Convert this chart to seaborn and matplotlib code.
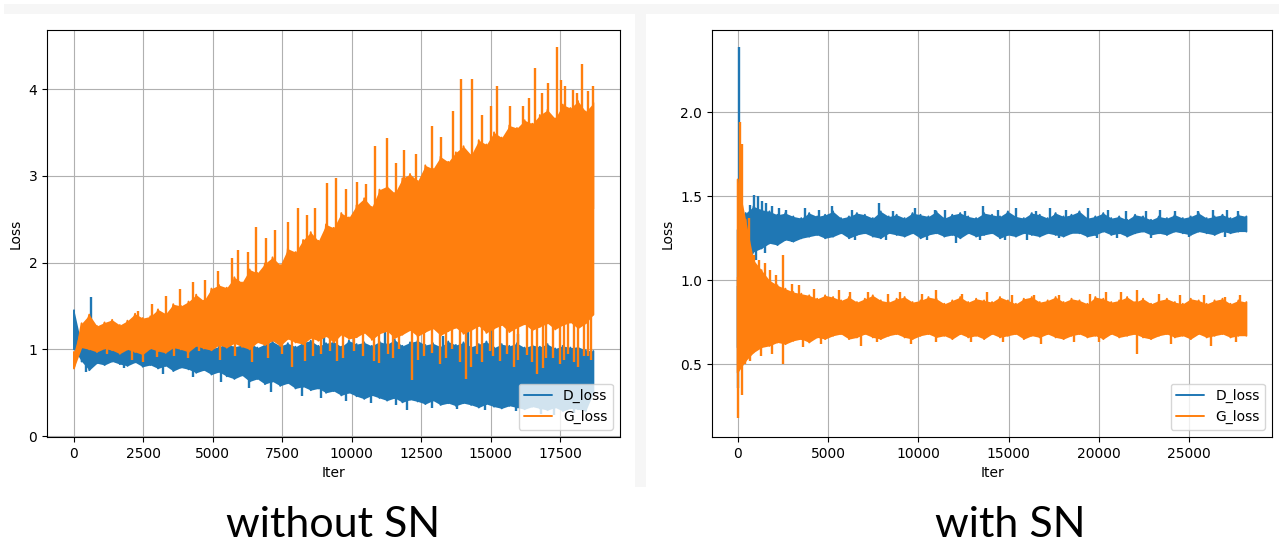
import matplotlib
matplotlib.use("Agg")
import matplotlib.pyplot as plt
from matplotlib.patches import Rectangle
import seaborn as sns
import numpy as np

# ---- left panel: without SN (band edges read every 275 iters) ----
L_ITER = np.arange(0, 18701, 275)
L_D_HI = [1.45, 1.05, 1.08, 1.02, 1.04, 1.01, 0.99, 1.03, 1.00, 0.98,
          1.04, 1.01, 0.99, 1.05, 1.02, 1.00, 1.04, 1.06, 1.01, 1.03,
          1.07, 1.03, 1.05, 1.08, 1.02, 1.06, 1.09, 1.04, 1.07, 1.03,
          1.08, 1.10, 1.04, 1.07, 1.09, 1.03, 1.10, 1.06, 1.08, 1.04,
          1.09, 1.06, 1.11, 1.04, 1.08, 1.10, 1.05, 1.07, 1.03, 1.09,
          1.05, 1.08, 1.03, 1.06, 1.09, 1.02, 1.06, 1.04, 1.07, 1.02,
          1.05, 1.03, 1.06, 1.01, 1.04, 1.02, 1.03, 0.99, 0.98]
L_D_LO = [1.00, 0.86, 0.76, 0.84, 0.82, 0.86, 0.83, 0.81, 0.85, 0.80,
          0.82, 0.78, 0.81, 0.75, 0.79, 0.77, 0.73, 0.76, 0.71, 0.74,
          0.69, 0.66, 0.70, 0.63, 0.66, 0.60, 0.63, 0.58, 0.61, 0.55,
          0.57, 0.53, 0.55, 0.50, 0.52, 0.47, 0.50, 0.46, 0.43, 0.47,
          0.44, 0.41, 0.44, 0.39, 0.42, 0.40, 0.37, 0.41, 0.36, 0.38,
          0.35, 0.38, 0.36, 0.33, 0.37, 0.34, 0.32, 0.35, 0.33, 0.31,
          0.34, 0.32, 0.30, 0.33, 0.29, 0.32, 0.31, 0.29, 0.50]
L_D_SPIKE_ITER = [600, 9000, 11200, 14200, 15000, 16000, 13300,
                  450, 1800, 3200, 4300, 5300, 6300, 7100, 8200, 8900, 9800, 10700, 11600,
                  12000, 12900, 13800, 14800, 15900, 16800, 17300, 18000]
L_D_SPIKE_VAL = [1.60, 1.18, 1.20, 1.22, 1.25, 1.18, 1.15,
                 0.74, 0.78, 0.72, 0.68, 0.62, 0.55, 0.51, 0.46, 0.44, 0.41, 0.38, 0.36,
                 0.30, 0.32, 0.31, 0.30, 0.29, 0.26, 0.24, 0.27]

L_G_HI = [0.97, 1.30, 1.40, 1.27, 1.31, 1.34, 1.28, 1.33, 1.41, 1.36,
          1.38, 1.46, 1.41, 1.52, 1.50, 1.55, 1.63, 1.56, 1.70, 1.74,
          1.71, 1.83, 1.77, 1.92, 1.88, 1.99, 2.06, 1.97, 2.16, 2.12,
          2.26, 2.35, 2.25, 2.44, 2.40, 2.57, 2.52, 2.66, 2.74, 2.64,
          2.84, 2.88, 2.80, 2.97, 3.02, 2.94, 3.12, 3.08, 3.22, 3.16,
          3.27, 3.34, 3.24, 3.41, 3.36, 3.50, 3.44, 3.58, 3.55, 3.64,
          3.60, 3.70, 3.76, 3.66, 3.82, 3.78, 3.86, 3.74, 3.84]
L_G_LO = [0.78, 1.02, 1.00, 0.97, 1.01, 0.99, 0.95, 1.00, 0.97, 0.94,
          1.01, 0.98, 0.96, 1.02, 1.00, 0.97, 1.04, 1.01, 0.99, 1.05,
          1.02, 1.07, 1.03, 1.00, 1.08, 1.05, 1.10, 1.04, 1.12, 1.08,
          1.06, 1.13, 1.10, 1.15, 1.08, 1.17, 1.12, 1.14, 1.19, 1.11,
          1.18, 1.21, 1.13, 1.17, 1.22, 1.15, 1.20, 1.24, 1.16, 1.21,
          1.25, 1.18, 1.22, 1.27, 1.19, 1.24, 1.28, 1.20, 1.25, 1.29,
          1.22, 1.26, 1.30, 1.23, 1.28, 1.31, 1.24, 1.30, 1.40]
L_G_SPIKE_ITER = [2300, 2800, 3300, 3800, 4300, 4700, 5200, 5700, 5920, 6250, 6550, 6900, 7250,
                  7700, 8080, 8400, 8670, 9100, 9435, 9800, 10200, 10500, 10840, 11270, 11600,
                  11900, 12300, 12880, 13200, 13660, 13935, 14343, 14700, 15000, 15244, 15700,
                  16170, 16400, 16600, 16850, 17080, 17380, 17520, 17680, 17970, 18100, 18300,
                  18500, 18700,
                  1200, 2100, 2500, 2978, 3600, 4100, 4500, 5257, 5800, 6400, 7000, 7500, 7838,
                  8318, 8600, 8900, 9200, 9460, 9700, 10100, 10400, 10800, 11000, 11300, 11500,
                  11700, 12160, 12400, 12600, 12900, 13180, 13400, 13600, 13900, 14105, 14300,
                  14500, 14700, 14980, 15100, 15350, 15600, 15845, 16000, 16300, 16500, 16685,
                  16900, 17000, 17250, 17500, 17650, 17800, 18000, 18150, 18350, 18500, 18600]
L_G_SPIKE_VAL = [1.44, 1.52, 1.62, 1.70, 1.78, 1.80, 1.90, 2.05, 2.15, 2.12, 2.41, 2.28, 2.38,
                 2.47, 2.63, 2.55, 2.63, 2.92, 2.98, 2.85, 2.93, 2.90, 3.34, 3.44, 3.15,
                 3.30, 3.25, 3.57, 3.45, 3.75, 4.11, 4.12, 3.70, 3.80, 4.04, 3.80,
                 3.80, 3.90, 4.24, 3.95, 4.07, 4.48, 4.10, 4.04, 3.99, 3.95, 4.29,
                 3.98, 4.04,
                 0.95, 0.88, 0.85, 0.91, 0.92, 0.90, 0.98, 0.88, 0.92, 0.86, 0.90, 0.95, 0.80,
                 0.87, 0.92, 0.95, 0.98, 0.87, 0.90, 0.98, 0.92, 0.87, 0.84, 0.95, 0.90,
                 1.00, 0.65, 0.88, 0.92, 0.96, 0.83, 0.90, 1.00, 0.85, 0.66, 0.80,
                 0.95, 0.85, 0.98, 0.92, 0.87, 0.95, 0.80, 0.88, 0.94, 0.85, 0.72,
                 0.78, 0.90, 0.90, 0.83, 0.88, 0.95, 0.85, 0.80, 0.92, 0.92, 0.88]

# ---- right panel: with SN (band edges read every 440 iters) ----
R_ITER = np.arange(0, 28161, 440)
R_D_HI = [1.30, 1.40, 1.44, 1.42, 1.41, 1.39, 1.40, 1.38, 1.37, 1.40,
          1.38, 1.39, 1.41, 1.37, 1.38, 1.40, 1.39, 1.37, 1.41, 1.38,
          1.39, 1.37, 1.40, 1.39, 1.38, 1.41, 1.37, 1.39, 1.40, 1.38,
          1.37, 1.40, 1.39, 1.38, 1.41, 1.38, 1.37, 1.40, 1.39, 1.37,
          1.40, 1.38, 1.39, 1.41, 1.37, 1.38, 1.40, 1.37, 1.38, 1.36,
          1.39, 1.38, 1.36, 1.38, 1.37, 1.39, 1.37, 1.38, 1.40, 1.37,
          1.38, 1.39, 1.37, 1.39, 1.38]
R_D_LO = [0.60, 1.05, 1.17, 1.19, 1.22, 1.21, 1.24, 1.23, 1.25, 1.26,
          1.27, 1.25, 1.26, 1.28, 1.25, 1.27, 1.28, 1.26, 1.25, 1.28,
          1.27, 1.26, 1.28, 1.25, 1.27, 1.28, 1.26, 1.27, 1.25, 1.28,
          1.26, 1.27, 1.28, 1.25, 1.27, 1.26, 1.28, 1.27, 1.26, 1.28,
          1.27, 1.26, 1.28, 1.28, 1.26, 1.27, 1.29, 1.27, 1.28, 1.26,
          1.28, 1.29, 1.27, 1.28, 1.27, 1.29, 1.28, 1.27, 1.29, 1.28,
          1.27, 1.29, 1.28, 1.29, 1.29]
R_D_SPIKE_ITER = [50, 700, 880, 1100, 1320, 1550, 1900, 2300, 2700, 3700, 4500, 5200, 6300,
                  7800, 8600, 9800, 10900, 11500, 12600, 13600, 14400, 15400, 16500, 17290,
                  18200, 19410, 20500, 21500, 22600, 23400, 24200, 25500, 26300, 27100, 27700,
                  30, 650, 1000, 1500, 3000, 6500, 8200, 10500, 12085, 13410, 14800, 16000,
                  17800, 19870, 21000, 22900, 25000, 27000]
R_D_SPIKE_VAL = [2.39, 1.45, 1.51, 1.50, 1.47, 1.46, 1.44, 1.43, 1.42, 1.43, 1.42, 1.44, 1.42,
                 1.46, 1.41, 1.43, 1.42, 1.42, 1.41, 1.44, 1.42, 1.43, 1.41, 1.43,
                 1.42, 1.43, 1.42, 1.41, 1.41, 1.42, 1.41, 1.41, 1.42, 1.42, 1.41,
                 0.36, 1.05, 1.12, 1.16, 1.23, 1.24, 1.24, 1.24, 1.22, 1.24, 1.24, 1.24,
                 1.25, 1.25, 1.25, 1.25, 1.26, 1.26]

R_G_HI = [1.60, 1.36, 1.12, 1.06, 1.00, 0.97, 0.95, 0.93, 0.92, 0.91,
          0.89, 0.91, 0.90, 0.88, 0.90, 0.87, 0.89, 0.91, 0.88, 0.87,
          0.89, 0.90, 0.87, 0.88, 0.90, 0.89, 0.86, 0.88, 0.90, 0.87,
          0.89, 0.88, 0.87, 0.90, 0.88, 0.86, 0.89, 0.90, 0.87, 0.88,
          0.90, 0.87, 0.89, 0.88, 0.86, 0.90, 0.89, 0.87, 0.88, 0.90,
          0.87, 0.89, 0.86, 0.88, 0.89, 0.87, 0.86, 0.89, 0.88, 0.86,
          0.88, 0.89, 0.86, 0.88, 0.87]
R_G_LO = [0.45, 0.52, 0.57, 0.60, 0.61, 0.63, 0.62, 0.64, 0.65, 0.63,
          0.66, 0.65, 0.67, 0.68, 0.65, 0.66, 0.68, 0.66, 0.65, 0.67,
          0.68, 0.66, 0.65, 0.67, 0.68, 0.66, 0.67, 0.65, 0.68, 0.66,
          0.67, 0.65, 0.68, 0.66, 0.67, 0.68, 0.65, 0.67, 0.66, 0.68,
          0.66, 0.65, 0.67, 0.68, 0.66, 0.67, 0.65, 0.68, 0.66, 0.67,
          0.68, 0.66, 0.65, 0.67, 0.68, 0.66, 0.67, 0.65, 0.68, 0.66,
          0.67, 0.68, 0.66, 0.67, 0.67]
R_G_SPIKE_ITER = [110, 255, 600, 900, 1200, 1500, 1800, 2100, 2525, 3000, 3400, 4200, 5600,
                  6200, 7200, 8300, 9000, 10200, 11000, 12400, 13800, 15200, 16400, 17800,
                  19500, 20400, 21200, 22100, 23300, 24500, 25800, 27000, 27800,
                  33, 255, 400, 700, 1300, 1900, 2525, 3600, 4600, 6800, 7700, 9600, 11000,
                  12900, 14700, 16800, 18600, 20000, 22100, 24000, 26200, 27600]
R_G_SPIKE_VAL = [1.94, 1.81, 1.37, 1.15, 1.12, 1.10, 1.06, 1.03, 1.15, 0.98, 0.97, 0.95, 0.94,
                 0.93, 0.93, 0.92, 0.93, 0.92, 0.94, 0.92, 0.93, 0.91, 0.91, 0.91,
                 0.92, 0.93, 0.93, 0.94, 0.92, 0.91, 0.91, 0.90, 0.91,
                 0.18, 0.32, 0.50, 0.52, 0.55, 0.56, 0.50, 0.60, 0.62, 0.61, 0.63, 0.62, 0.63,
                 0.63, 0.63, 0.62, 0.63, 0.63, 0.56, 0.62, 0.61, 0.63]

D_COLOR = "#1f77b4"
G_COLOR = "#ff7f0e"


def draw_loss(ax, it, lo, hi, sp_it, sp_val, name, color, z):
    it, lo, hi = np.asarray(it), np.asarray(lo), np.asarray(hi)
    ax.fill_between(it, lo, hi, color=color, lw=0, zorder=z)
    # vertical strokes between the band edges, like a dense noisy line
    sns.lineplot(x=np.repeat(it, 2), y=np.column_stack([hi, lo]).ravel(), sort=False,
                 estimator=None, color=color, lw=1.4, label=name, ax=ax, zorder=z)
    mid = np.interp(sp_it, it, (lo + hi) / 2)
    ax.vlines(sp_it, mid, sp_val, color=color, lw=1.7, zorder=z)


sns.set_style("ticks", {"axes.grid": True, "grid.color": "#b0b0b0",
                        "axes.edgecolor": "black", "xtick.color": "black",
                        "ytick.color": "black", "text.color": "black",
                        "axes.labelcolor": "black"})
plt.rcParams["font.family"] = ["DejaVu Sans"]

fig = plt.figure(figsize=(12.83, 5.45), dpi=100, facecolor="white")
W, H = 1283, 545
# screenshot-like frame behind the two plots
frame = [Rectangle((4 / W, (H - 487) / H), 1275 / W, 483 / H, facecolor="#f6f6f6"),
         Rectangle((0, (H - 487) / H), 635 / W, 473 / H, facecolor="white"),
         Rectangle((646 / W, (H - 487) / H), 637 / W, 473 / H, facecolor="white")]
for r in frame:
    r.set_transform(fig.transFigure)
    r.set_edgecolor("none")
    r.set_zorder(-10)
    fig.patches.append(r)

ax1 = fig.add_axes([47 / W, (H - 437) / H, 573 / W, 407 / H])
ax2 = fig.add_axes([712 / W, (H - 437) / H, 560 / W, 407 / H])

draw_loss(ax1, L_ITER, L_D_LO, L_D_HI, L_D_SPIKE_ITER, L_D_SPIKE_VAL, "D_loss", D_COLOR, 2)
draw_loss(ax1, L_ITER, L_G_LO, L_G_HI, L_G_SPIKE_ITER, L_G_SPIKE_VAL, "G_loss", G_COLOR, 3)
draw_loss(ax2, R_ITER, R_D_LO, R_D_HI, R_D_SPIKE_ITER, R_D_SPIKE_VAL, "D_loss", D_COLOR, 2)
draw_loss(ax2, R_ITER, R_G_LO, R_G_HI, R_G_SPIKE_ITER, R_G_SPIKE_VAL, "G_loss", G_COLOR, 3)

ax1.set_xlim(-972, 19660)
ax1.set_ylim(-0.01, 4.68)
ax1.set_xticks(np.arange(0, 17501, 2500))
ax1.set_yticks([0, 1, 2, 3, 4])
ax2.set_xlim(-1423, 29578)
ax2.set_ylim(0.067, 2.49)
ax2.set_xticks(np.arange(0, 25001, 5000))
ax2.set_yticks([0.5, 1.0, 1.5, 2.0])

for ax in (ax1, ax2):
    ax.set_zorder(1)
    ax.set_facecolor("white")
    ax.set_xlabel("Iter", fontsize=10)
    ax.set_ylabel("Loss", fontsize=10)
    ax.tick_params(labelsize=10, direction="out", length=3.5, width=0.8)
    ax.grid(True, color="#b0b0b0", lw=0.8)
    ax.set_axisbelow(True)
    for s in ax.spines.values():
        s.set_linewidth(0.8)
    leg = ax.legend(loc="lower right", fontsize=10, frameon=True, framealpha=0.8,
                    edgecolor="#cccccc", fancybox=True)
    leg.set_zorder(10)

fig.text(333 / W, 1 / H, "without SN", family=["Lato", "DejaVu Sans"], fontsize=31,
         ha="center", va="bottom")
fig.text(1010 / W, 1 / H, "with SN", family=["Lato", "DejaVu Sans"], fontsize=31,
         ha="center", va="bottom")

fig.savefig("out.png", dpi=100, facecolor="white")
